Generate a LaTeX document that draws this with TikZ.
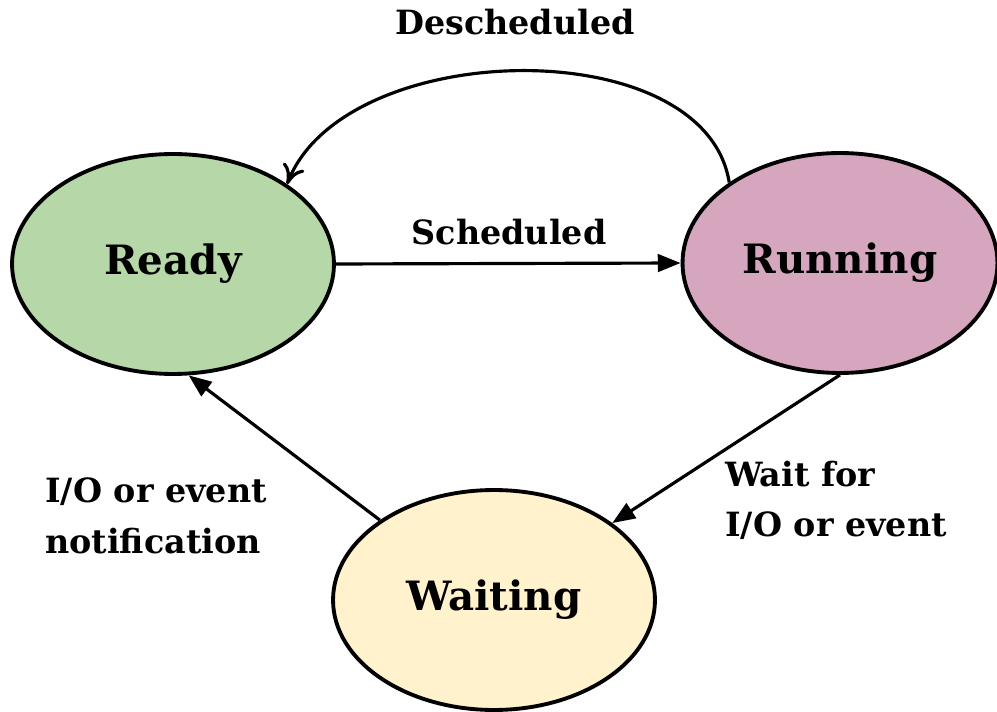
\documentclass[tikz,border=0pt]{standalone}
\usepackage{fontspec}
\setmainfont{DejaVu Serif}
\usetikzlibrary{shapes.geometric,arrows.meta}

\definecolor{readygreen}{HTML}{B6D7A8}
\definecolor{runningpink}{HTML}{D5A6BD}
\definecolor{waitingyellow}{HTML}{FFF2CC}

\begin{document}
\begin{tikzpicture}[x = 0.02cm,y = -0.02cm,
        state/.style = {draw = black,ellipse,line width = 2.2pt,inner sep = 0pt,
            minimum width = 6.44cm,minimum height = 4.4cm,
            font = \bfseries\fontsize{23}{30}\selectfont},
        tag/.style = {anchor = base,inner sep = 0pt,align = left,
            font = \bfseries\fontsize{19}{28.5}\selectfont},
        move/.style = {line width = 1.8pt,-{Triangle[length = 13pt,width = 10pt]}},
        back/.style = {line width = 1.8pt,-{Computer Modern Rightarrow[length = 11pt,width = 13pt]}}]
    \useasboundingbox (0,0) rectangle (997,712);
    % states
    \node [state,fill = readygreen] (ready) at (173,264) {Ready};
    \node [state,fill = runningpink,minimum width = 6.3cm] (running) at (840,263) {Running};
    \node [state,fill = waitingyellow] (waiting) at (494,600) {Waiting};
    % transitions
    \draw [move] (ready.east) -- (running.west);
    \draw [back] (running.144) .. controls (705,30) and (345,37) .. (ready.35);
    \draw [move] (running.south) -- (waiting);
    \draw [move] (waiting.145) -- (ready.-82);
    % labels
    \node [tag] (sched) at (509,245) {Scheduled};
    \node [tag] (desched) at (515,35) {Descheduled};
    \node [tag,anchor = base west] (notify) at (45,553) {I/O or event\\notification};
    \node [tag,anchor = base west] (wait) at (725,537) {Wait for\\I/O or event};
\end{tikzpicture}
\end{document}
